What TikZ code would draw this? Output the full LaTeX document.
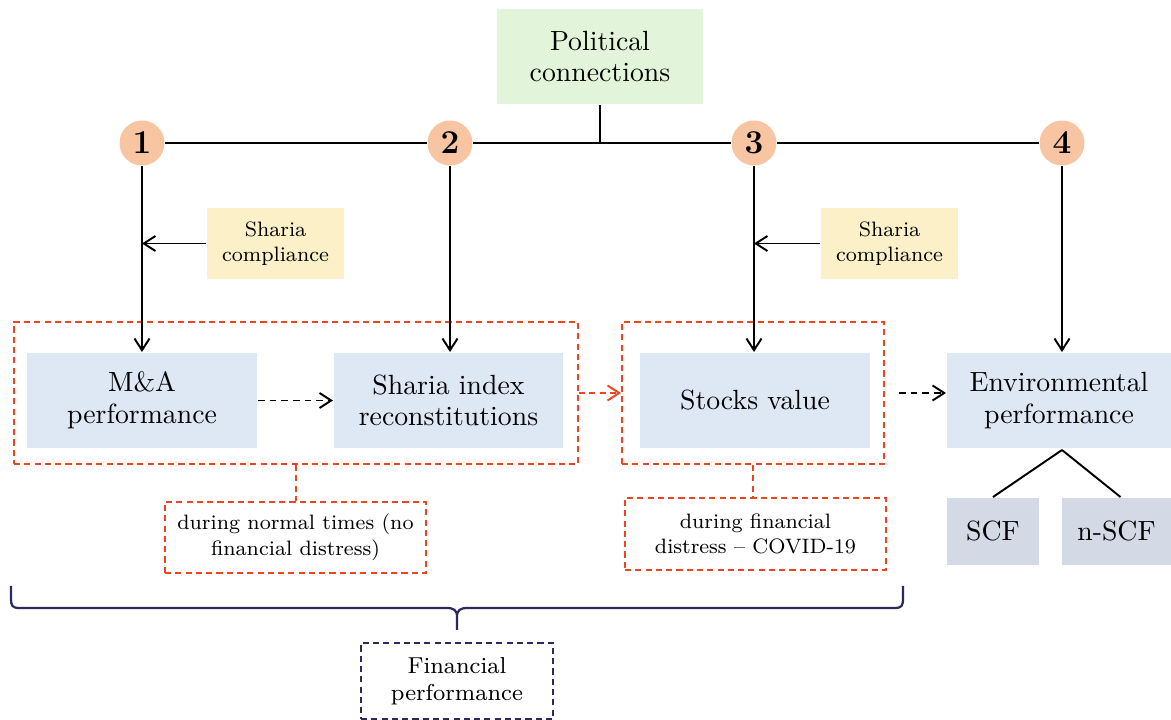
\documentclass[tikz,border=0pt]{standalone}
\usetikzlibrary{arrows.meta}
\definecolor{cgreen}{HTML}{E2F5DA}
\definecolor{cpeach}{HTML}{F8C5A2}
\definecolor{cyellow}{HTML}{FCF0C9}
\definecolor{cblue}{HTML}{DEE8F5}
\definecolor{cgray}{HTML}{D3D9E5}
\definecolor{cred}{HTML}{EE4420}
\definecolor{cnavy}{HTML}{2B2A5E}
\newcommand\PX{0.36pt}
\begin{document}
\begin{tikzpicture}[x=0.36pt,y=-0.36pt,line width=0.7pt,
  >={Straight Barb[length=4.2pt,width=5.4pt]},
  box/.style={inner sep=0pt, align=center, font=\fontsize{10}{11.4}\selectfont},
  smallbox/.style={inner sep=0pt, align=center, font=\fontsize{7.5}{9.2}\selectfont},
  num/.style={circle, fill=cpeach, inner sep=0pt, minimum size=45*\PX, font=\fontsize{12}{14}\selectfont\bfseries},
  reddash/.style={draw=cred, dash pattern=on 2.2pt off 1.5pt},
  blackdash/.style={dash pattern=on 2.4pt off 1.8pt},
]
\useasboundingbox (0,0) rectangle (1171,720);

% main boxes
\node[box, fill=cgreen, minimum width=206*\PX, minimum height=95*\PX] (pol) at (600,56.5) {Political\\connections};

\node[num] (c1) at (142,143) {1};
\node[num] (c2) at (450,143) {2};
\node[num] (c3) at (754,143) {3};
\node[num] (c4) at (1062,143) {4};

\node[smallbox, fill=cyellow, minimum width=137*\PX, minimum height=71*\PX] (sc1) at (275.5,243.5) {Sharia\\compliance};
\node[smallbox, fill=cyellow, minimum width=137*\PX, minimum height=71*\PX] (sc2) at (889.5,243.5) {Sharia\\compliance};

\node[reddash, minimum width=564*\PX, minimum height=142*\PX, inner sep=0pt] (g1) at (296,393) {};
\node[reddash, minimum width=262*\PX, minimum height=142*\PX, inner sep=0pt] (g2) at (753,393) {};

\node[box, fill=cblue, minimum width=230*\PX, minimum height=95*\PX] (ma) at (142,400.5) {M\&A\\performance};
\node[box, fill=cblue, minimum width=229*\PX, minimum height=95*\PX] (si) at (448.5,400.5) {Sharia index\\reconstitutions};
\node[box, fill=cblue, minimum width=230*\PX, minimum height=95*\PX] (sv) at (755,400.5) {Stocks value};
\node[box, fill=cblue, minimum width=224*\PX, minimum height=95*\PX] (env) at (1059,400.5) {Environmental\\performance};

\node[smallbox, reddash, minimum width=261*\PX, minimum height=71*\PX] (n1) at (295.5,537.5) {during normal times (no\\financial distress)};
\node[smallbox, reddash, minimum width=261*\PX, minimum height=72*\PX] (n2) at (755.5,534) {during financial\\distress -- COVID-19};

\node[box, fill=cgray, minimum width=92*\PX, minimum height=67*\PX] (scf) at (993,531.5) {SCF};
\node[box, fill=cgray, minimum width=109*\PX, minimum height=67*\PX] (nscf) at (1116.5,531.5) {n-SCF};

\node[smallbox, font=\fontsize{8.3}{9.6}\selectfont, draw=cnavy, dash pattern=on 2.2pt off 1.5pt, minimum width=192*\PX, minimum height=76*\PX] (fin) at (457,681) {Financial\\performance};

% top connections
\draw (c1) -- (c2) -- (c3) -- (c4);
\draw[line width=1pt] (pol.south) -- (pol.south |- c2.center);

\draw[->] (c1.south) -- (c1.south |- ma.north);
\draw[->] (c2.south) -- (c2.south |- si.north);
\draw[->] (c3.south) -- (c3.south |- sv.north);
\draw[->] (c4.south) -- (c4.south |- env.north);

\draw[->] (sc1.west) -- (sc1.west -| c1.center);
\draw[->] (sc2.west) -- (sc2.west -| c3.center);

% middle arrows
\draw[->, blackdash] (ma.east) -- (si.west);
\draw[->, reddash] (g1.east) -- (g2.west);
\coordinate (g2out) at ([xshift=14*\PX]g2.east);
\draw[->, blackdash] (g2out) -- (g2out -| env.west);

\draw[reddash] (g1.south) -- (g1.south |- n1.north);
\draw[reddash] (g2.south) -- (g2.south |- n2.north);

\coordinate (envb) at (1062,450);
\draw (envb) -- (scf.north);
\draw (envb) -- ([xshift=4*\PX]nscf.north);

% brace
\coordinate (bl) at (11,586);
\coordinate (br) at (903,586);
\coordinate (bt) at (457,630);
\draw[cnavy, line width=0.8pt]
  (bl) -- (11,598) .. controls (11,606) and (12,608) .. (20,608)
  -- (446,608) .. controls (454,608) and (457,610) .. (457,617) -- (bt)
  (457,617) .. controls (457,610) and (460,608) .. (468,608)
  -- (894,608) .. controls (902,608) and (903,606) .. (903,598) -- (br);
\end{tikzpicture}
\end{document}
